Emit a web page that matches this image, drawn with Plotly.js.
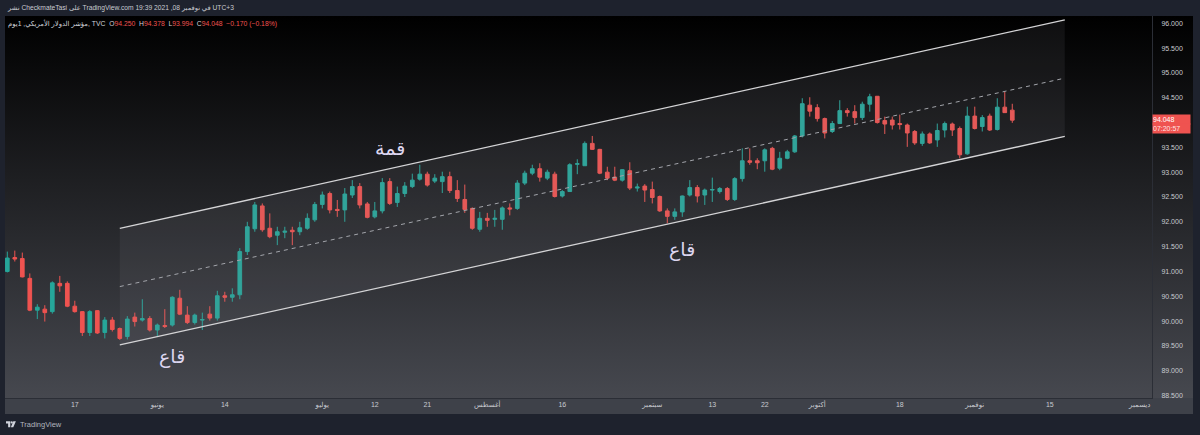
<!DOCTYPE html>
<html><head><meta charset="utf-8">
<script src="https://cdn.plot.ly/plotly-3.0.1.min.js"></script>
<style>
html,body{margin:0;padding:0;background:#1e222d;width:1200px;height:435px;overflow:hidden;font-family:"Liberation Sans","DejaVu Sans",sans-serif;}
#hdr{position:absolute;left:8px;top:4px;font-size:6.7px;color:#c9cbd1;white-space:nowrap;direction:ltr;}
#frame{position:absolute;left:5px;top:16px;width:1188px;height:398px;background:linear-gradient(to bottom,#000000 0px,#46484f 382px,#3e4149 382px,#3e4149 398px);}
#chart{position:absolute;left:0;top:0;width:1188px;height:398px;}
#legend{position:absolute;left:3px;top:4px;font-size:6.8px;color:#d1d4dc;white-space:nowrap;z-index:5;direction:ltr;}
#legend .r{color:#ef5350}
#footer{position:absolute;left:6px;top:420px;font-size:7.5px;color:#b2b5be;display:flex;align-items:center;gap:4px;}
</style></head>
<body>
<div id="hdr">نشر CheckmateTasi على TradingView.com في نوفمبر 08, 2021 19:39 UTC+3</div>
<div id="frame">
  <div id="chart"></div>
  <div id="legend">مؤشر الدولار الأمريكي, 1يوم, TVC&nbsp; O<span class="r">94.250</span>&nbsp; H<span class="r">94.378</span>&nbsp; L<span class="r">93.994</span>&nbsp; C<span class="r">94.048</span>&nbsp; <span class="r">−0.170 (−0.18%)</span></div>
</div>
<div id="footer"><svg width="10" height="7" viewBox="0 0 14 9"><path d="M0 0h6v8.5h-3v-5.5h-3z" fill="#d1d4dc"/><circle cx="8" cy="1.6" r="1.6" fill="#d1d4dc"/><path d="M10.2 0h3.6l-3.6 8.5h-3.4z" fill="#d1d4dc"/></svg><span>TradingView</span></div>
<script>
// ---- data (US Dollar Index, TVC, daily) ----
const startDay = '2021-05-04';
const open  = [91.00,91.28,91.26,90.86,90.22,90.24,90.19,90.76,90.76,90.30,90.19,89.77,90.21,89.77,90.02,89.85,89.69,90.08,90.02,90.05,
               89.82,89.91,89.92,90.46,90.12,89.97,90.02,90.14,90.06,90.51,90.48,90.53,91.40,91.86,92.32,91.87,91.73,91.79,91.83,91.80,
               91.87,92.04,92.35,92.57,92.25,92.24,92.54,92.71,92.36,92.10,92.22,92.81,92.39,92.57,92.71,92.86,92.96,92.82,92.81,92.91,
               92.63,92.45,92.27,91.85,92.07,92.05,92.05,92.28,92.27,92.78,92.98,93.07,92.88,92.96,92.52,92.61,93.16,93.13,93.58,93.46,
               93.00,92.90,92.84,93.03,92.68,92.72,92.65,92.51,92.22,92.11,92.20,92.54,92.69,92.54,92.64,92.61,92.67,92.45,92.87,93.23,
               93.23,93.23,93.48,93.08,93.28,93.41,93.73,94.35,94.30,94.08,93.82,93.98,94.24,94.22,94.10,94.37,94.53,94.04,94.05,93.98,
               93.95,93.82,93.58,93.77,93.65,93.85,93.97,93.88,93.37,94.13,93.92,94.13,93.86,94.31,94.250];
const high  = [91.40,91.42,91.38,90.96,90.34,90.32,90.80,90.91,90.80,90.41,90.20,90.22,90.22,90.08,90.08,89.87,90.10,90.17,90.44,90.10,
               89.95,90.24,90.50,90.63,90.30,90.15,90.17,90.30,90.61,90.59,90.66,91.47,92.00,92.40,92.37,92.17,91.90,91.90,91.90,92.00,
               92.17,92.40,92.61,92.61,92.44,92.68,92.84,92.78,92.40,92.40,92.88,92.88,92.71,92.80,92.97,93.15,93.01,92.96,93.01,93.01,
               92.84,92.75,92.29,92.20,92.18,92.24,92.31,92.37,92.84,93.03,93.15,93.18,93.05,93.01,92.64,93.18,93.26,93.62,93.73,93.47,
               93.11,93.11,93.06,93.20,92.77,92.76,92.81,92.53,92.27,92.27,92.53,92.84,92.74,92.67,92.89,92.70,92.70,92.90,93.48,93.48,
               93.28,93.48,93.51,93.41,93.45,93.75,94.49,94.51,94.37,94.10,94.03,94.45,94.29,94.35,94.42,94.58,94.53,94.12,94.12,94.16,
               93.98,93.85,93.82,93.80,93.98,94.02,94.00,93.92,94.32,94.32,94.15,94.18,94.49,94.62,94.378];
const low   = [90.98,91.20,90.88,90.20,90.04,89.99,90.15,90.59,90.28,90.17,89.70,89.70,89.74,89.65,89.79,89.62,89.63,89.89,89.99,89.79,
               89.70,89.86,89.89,90.12,89.94,89.93,89.82,90.01,90.01,90.39,90.39,90.44,91.33,91.80,91.80,91.67,91.53,91.67,91.53,91.73,
               91.84,92.00,92.27,92.17,92.10,92.00,92.48,92.27,92.07,92.07,92.17,92.34,92.30,92.50,92.68,92.83,92.71,92.78,92.58,92.58,
               92.40,92.18,91.84,91.80,91.90,91.90,91.84,92.13,92.24,92.74,92.94,92.81,92.84,92.49,92.49,92.61,92.96,93.13,93.45,92.96,
               92.84,92.82,92.81,92.64,92.61,92.40,92.37,92.20,91.97,92.04,92.10,92.51,92.39,92.34,92.40,92.57,92.42,92.42,92.81,93.15,
               93.06,93.01,93.04,93.04,93.26,93.39,93.70,94.12,94.02,93.68,93.79,93.97,94.12,93.98,94.05,94.22,93.98,93.77,93.86,93.86,
               93.51,93.55,93.53,93.57,93.51,93.70,93.73,93.28,93.35,93.86,93.82,93.83,93.84,94.20,93.994];
const close = [91.27,91.25,90.89,90.22,90.28,90.17,90.77,90.71,90.30,90.19,89.77,90.19,89.76,90.02,89.83,89.65,90.04,89.99,90.05,89.82,
               89.92,89.89,90.48,90.14,89.97,90.12,90.03,90.06,90.51,90.48,90.53,91.40,91.90,92.34,91.84,91.70,91.80,91.81,91.80,91.88,
               92.07,92.35,92.54,92.24,92.23,92.56,92.71,92.34,92.09,92.22,92.79,92.37,92.57,92.72,92.84,92.96,92.74,92.88,92.91,92.63,
               92.47,92.25,91.87,92.07,92.03,92.07,92.28,92.26,92.78,92.98,93.07,92.90,93.00,92.51,92.61,93.15,93.17,93.58,93.46,92.98,
               92.88,92.84,93.05,92.68,92.70,92.64,92.49,92.22,92.11,92.20,92.52,92.69,92.52,92.64,92.65,92.67,92.45,92.87,93.23,93.20,
               93.19,93.45,93.06,93.28,93.41,93.73,94.38,94.23,94.08,93.79,93.98,94.24,94.20,94.10,94.37,94.52,94.00,93.97,93.95,93.96,
               93.79,93.59,93.77,93.59,93.84,93.98,93.85,93.35,94.13,93.88,94.10,93.85,94.31,94.20,94.048];

// time-axis labels
const tickDates = ['2021-05-17','2021-06-01','2021-06-14','2021-07-01','2021-07-12','2021-07-21','2021-08-02','2021-08-16',
                   '2021-09-01','2021-09-13','2021-09-22','2021-10-01','2021-10-18','2021-11-01','2021-11-15','2021-12-01'];
const tickText  = ['17','يونيو','14','يوليو','12','21','أغسطس','16','سبتمبر','13','22','أكتوبر','18','نوفمبر','15','ديسمبر'];
// price-scale labels (94.000 is covered by the last-price badge in the original)
const priceTicks = [88.5,89,89.5,90,90.5,91,91.5,92,92.5,93,93.5,94.5,95,95.5,96];

// parallel channel drawing (anchors)
const channelDates = ['2021-05-25','2021-11-17'];
const upperVals = [91.87, 96.07];
const lowerVals = [89.52, 93.72];

// labels drawn on the chart
const noteTexts = ['قاع','قمة','قاع'];
const noteDates = ['2021-06-03','2021-07-14','2021-09-07'];
const noteVals  = [89.28, 93.49, 91.45];

const lastPrice = 94.048, countdown = '07:20:57';

// ---- helpers ----
function tradingDays(start, n){
  const out=[]; const d=new Date(start+'T00:00:00Z');
  while(out.length<n){ const w=d.getUTCDay(); if(w!==0&&w!==6) out.push(d.toISOString().slice(0,10)); d.setUTCDate(d.getUTCDate()+1); }
  return out;
}
const calendar = tradingDays(startDay, 170);
const idxOf = d => calendar.indexOf(d);
const xs = open.map((_,i)=>i);
const chX = channelDates.map(idxOf);
const midVals = upperVals.map((u,i)=>(u+lowerVals[i])/2);

const traces = [
  {type:'scatter',mode:'lines',x:chX,y:lowerVals,line:{color:'#d4d4d6',width:1.3},hoverinfo:'skip'},
  {type:'scatter',mode:'lines',x:chX,y:upperVals,line:{color:'#d4d4d6',width:1.3},fill:'tonexty',fillcolor:'rgba(150,152,161,0.10)',hoverinfo:'skip'},
  {type:'scatter',mode:'lines',x:chX,y:midVals,line:{color:'#a3a5ab',width:1,dash:'4px,4px'},hoverinfo:'skip'},
  {type:'candlestick',x:xs,open:open,high:high,low:low,close:close,
   increasing:{line:{color:'#26a69a',width:1},fillcolor:'#26a69a'},
   decreasing:{line:{color:'#ef5350',width:1},fillcolor:'#ef5350'},
   whiskerwidth:0,hoverinfo:'skip'}
];

const annotations = noteTexts.map((t,i)=>({
  x:idxOf(noteDates[i]), y:noteVals[i], xref:'x', yref:'y', text:t, showarrow:false,
  font:{family:'DejaVu Sans, sans-serif', size:19, color:'#ddd6f0'}
}));
// last price badge on the price scale: price on top, bar countdown below
annotations.push({
  xref:'paper', x:1, xanchor:'left', yref:'y', y:lastPrice, yanchor:'middle', yshift:1,
  text:lastPrice.toFixed(3), showarrow:false, align:'left',
  bgcolor:'#ef5350', width:37, height:9, borderpad:0,
  font:{family:'Liberation Sans, sans-serif', size:7, color:'#ffffff'}
});
annotations.push({
  xref:'paper', x:1, xanchor:'left', yref:'y', y:lastPrice, yanchor:'middle', yshift:-8,
  text:countdown, showarrow:false, align:'left',
  bgcolor:'#ef5350', width:37, height:9, borderpad:0,
  font:{family:'Liberation Sans, sans-serif', size:7, color:'#ffe3e3'}
});

const tickFont = {family:'Liberation Sans, DejaVu Sans, sans-serif', size:7, color:'#c8cad0'};
const layout = {
  width:1188, height:398,
  margin:{l:0,r:41,t:0,b:16},
  paper_bgcolor:'rgba(0,0,0,0)', plot_bgcolor:'rgba(0,0,0,0)',
  showlegend:false, dragmode:false, hovermode:false,
  boxgap:0.3,
  xaxis:{range:[-0.307,152.63], showgrid:false, zeroline:false, rangeslider:{visible:false},
         tickmode:'array', tickvals:tickDates.map(idxOf), ticktext:tickText, ticks:'',
         tickfont:tickFont, showline:true, linecolor:'#2b2e36', linewidth:1, fixedrange:true},
  yaxis:{range:[88.45,96.147], side:'right', showgrid:false, zeroline:false,
         tickmode:'array', tickvals:priceTicks, tickformat:'.3f', ticks:'', ticklabelstandoff:7,
         tickfont:tickFont, showline:true, linecolor:'#2b2e36', linewidth:1, fixedrange:true},
  annotations:annotations
};
Plotly.newPlot('chart', traces, layout, {displayModeBar:false, staticPlot:true});
</script>
</body></html>
